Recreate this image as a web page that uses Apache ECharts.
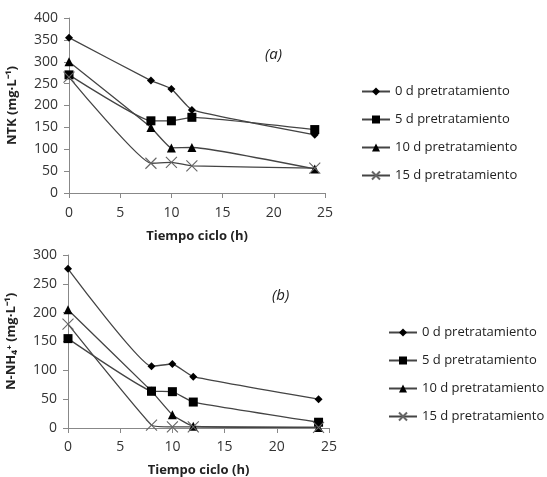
<!DOCTYPE html>
<html><head><meta charset="utf-8">
<script src="https://cdn.jsdelivr.net/npm/echarts@6/dist/echarts.min.js"></script>
<style>html,body{margin:0;padding:0;background:#fff}#c{width:547px;height:477px}</style>
</head><body><div id="c"></div>
<script>
var seriesNames = ['0 d pretratamiento','5 d pretratamiento','10 d pretratamiento','15 d pretratamiento'];
var timeH = [0, 8, 10, 12, 24];
var ntk0 = [355, 257, 238, 190, 133];
var ntk5 = [270, 165, 165, 173, 145];
var ntk10 = [300, 150, 103, 104, 55];
var ntk15 = [265, 68, 70, 62, 57];
var nh0 = [276, 107, 111, 89, 50];
var nh5 = [155, 64, 63, 45, 10];
var nh10 = [205, 64, 23, 3, 1];
var nh15 = [180, 5, 2, 2, 1];
var xTicks = [0, 5, 10, 15, 20, 25];

var crossPath = 'path://M0,0L10,10M10,0L0,10';
var symbols = ['diamond','rect','triangle',crossPath];
var sizes = [8, 9, 9, 11];
function pairs(vals){ return timeH.map(function(t,i){ return [t, vals[i]]; }); }
function mk(name, vals, idx, g){
  var isX = idx === 3;
  return {
    name: name, type: 'line', xAxisIndex: g, yAxisIndex: g,
    data: pairs(vals), smooth: 0.12,
    symbol: symbols[idx], symbolSize: sizes[idx],
    lineStyle: {color: '#444', width: 1.3},
    itemStyle: isX ? {color: 'rgba(0,0,0,0)', borderColor: '#666', borderWidth: 1.1} : {color: '#000'},
    emphasis: {disabled: true}
  };
}
var axisFont = {fontFamily: 'Open Sans', fontSize: 14, color: '#333'};
function xAx(g, gap, margin){
  return {type: 'value', gridIndex: g, min: 0, max: 25, interval: 5,
    name: 'Tiempo ciclo (h)', nameLocation: 'middle', nameGap: gap,
    nameTextStyle: {fontFamily: 'Open Sans', fontWeight: 'bold', fontSize: 13, color: '#222'},
    axisLine: {lineStyle: {color: '#888'}}, axisTick: {show: true, length: 5, lineStyle: {color: '#888'}},
    splitLine: {show: false}, axisLabel: Object.assign({margin: margin}, axisFont)};
}
function yAx(g, max, name){
  return {type: 'value', gridIndex: g, min: 0, max: max, interval: 50,
    name: name, nameLocation: 'middle', nameGap: 50, nameRotate: 90,
    nameTextStyle: {fontFamily: 'Open Sans', fontWeight: 'bold', fontSize: 13, color: '#222'},
    axisLine: {show: true, lineStyle: {color: '#888'}}, axisTick: {show: true, length: 5, lineStyle: {color: '#888'}},
    splitLine: {show: false}, axisLabel: Object.assign({margin: 11}, axisFont)};
}
var series = [];
[ntk0, ntk5, ntk10, ntk15].forEach(function(v,i){ series.push(mk(seriesNames[i], v, i, 0)); });
[nh0, nh5, nh10, nh15].forEach(function(v,i){ series.push(mk(seriesNames[i], v, i, 1)); });
var legendBase = {orient: 'vertical', itemWidth: 28, itemHeight: 10, itemGap: 15, data: seriesNames,
  selectedMode: false, textStyle: {fontFamily: 'Open Sans', fontSize: 13, color: '#222'}};
var chart = echarts.init(document.getElementById('c'));
chart.setOption({
  animation: false,
  grid: [
    {left: 69, width: 256, top: 18, height: 175, outerBoundsMode: 'none'},
    {left: 68, width: 261, top: 255, height: 173, outerBoundsMode: 'none'}
  ],
  xAxis: [xAx(0, 37, 13), xAx(1, 36, 12)],
  yAxis: [yAx(0, 400, 'NTK (mg·L⁻¹)'), yAx(1, 300, 'N-NH₄⁺ (mg·L⁻¹)')],
  legend: [
    Object.assign({left: 356, top: 80}, legendBase),
    Object.assign({left: 383, top: 321}, legendBase)
  ],
  graphic: [
    {type: 'text', left: 265, top: 47, style: {text: '(a)', font: 'italic 15px "Open Sans"', fill: '#222'}},
    {type: 'text', left: 272, top: 288, style: {text: '(b)', font: 'italic 15px "Open Sans"', fill: '#222'}}
  ],
  series: series
});
</script></body></html>
